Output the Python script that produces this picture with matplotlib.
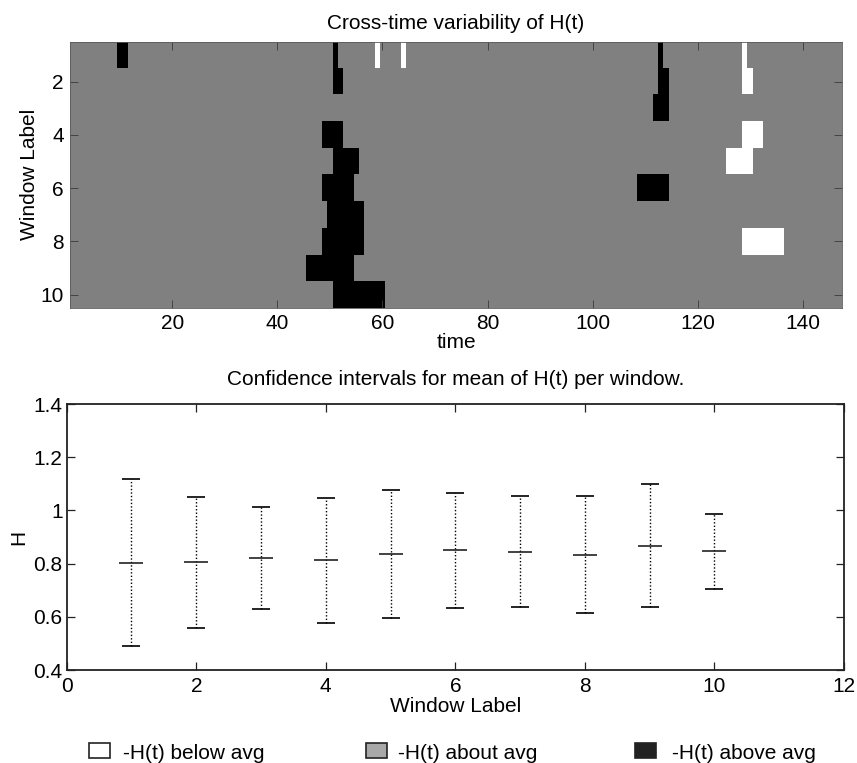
import numpy as np
import matplotlib
matplotlib.use("Agg")
import matplotlib.pyplot as plt
from matplotlib.colors import ListedColormap
from matplotlib.patches import Rectangle

plt.rcParams['font.family'] = ['Liberation Sans', 'DejaVu Sans']
FS = 15
plt.rcParams['font.size'] = FS

# ---------------- data ----------------
n_time = 147
n_windows = 10
# runs (window, first time, last time) of H(t) above average
above_runs = [
    (1, 10, 11), (1, 51, 51), (1, 113, 113),
    (2, 51, 52), (2, 113, 114),
    (3, 112, 114),
    (4, 49, 52),
    (5, 51, 55),
    (6, 49, 54), (6, 109, 114),
    (7, 50, 56),
    (8, 49, 56),
    (9, 46, 54),
    (10, 51, 60),
]
# runs of H(t) below average
below_runs = [
    (1, 59, 59), (1, 64, 64), (1, 129, 129),
    (2, 129, 130),
    (4, 129, 132),
    (5, 126, 130),
    (8, 129, 136),
]

windows = [1, 2, 3, 4, 5, 6, 7, 8, 9, 10]
ci_mean = [0.803, 0.805, 0.822, 0.812, 0.837, 0.850, 0.845, 0.834, 0.867, 0.847]
ci_low = [0.490, 0.559, 0.631, 0.578, 0.597, 0.634, 0.638, 0.614, 0.637, 0.706]
ci_high = [1.118, 1.050, 1.013, 1.047, 1.078, 1.065, 1.053, 1.053, 1.098, 0.988]

legend_labels = ['-H(t) below avg', '-H(t) about avg', '-H(t) above avg']

# ---------------- matrix ----------------
state = np.zeros((n_windows, n_time))
for w, a, b in above_runs:
    state[w - 1, a - 1:b] = 1
for w, a, b in below_runs:
    state[w - 1, a - 1:b] = -1

W, H = 857, 763
fig = plt.figure(figsize=(W / 100, H / 100), dpi=100)

def fx(px):
    return px / W

def fy(py):
    return 1 - py / H

# ---------------- top panel ----------------
ax1 = fig.add_axes([fx(70), fy(308), fx(842 - 70), (308 - 41.7) / H])
cmap = ListedColormap(['white', '#808080', 'black'])
ax1.imshow(state, cmap=cmap, vmin=-1, vmax=1, aspect='auto',
           interpolation='nearest', extent=[0.5, n_time + 0.5, n_windows + 0.5, 0.5])
ax1.set_xlim(0.5, n_time + 0.5)
ax1.set_ylim(n_windows + 0.5, 0.5)
ax1.set_xticks([20, 40, 60, 80, 100, 120, 140])
ax1.set_yticks([2, 4, 6, 8, 10])
ax1.tick_params(direction='in', length=5.5, width=0.6, color='#3a3a3a',
                top=True, right=True, pad=4.5)
for s in ax1.spines.values():
    s.set_linewidth(0.6)
    s.set_color('#5a5a5a')
ax1.set_title('Cross-time variability of H(t)', pad=9, fontsize=FS)
ax1.set_xlabel('time', labelpad=0)
ax1.set_ylabel('Window Label', labelpad=1)

# ---------------- bottom panel ----------------
ax2 = fig.add_axes([fx(66.7), fy(670), fx(844 - 66.7), (670 - 404) / H])
mean = np.array(ci_mean)
lo = np.array(ci_low)
hi = np.array(ci_high)
eb = ax2.errorbar(windows, mean, yerr=[mean - lo, hi - mean], fmt='none',
                  ecolor='black', elinewidth=1.0, capsize=6.8, capthick=1.2)
eb[2][0].set_linestyle((0, (1, 1.5)))
for cl in eb[1]:
    cl.set_color('#222222')
ax2.plot(windows, mean, linestyle='none', marker='_', markersize=17.3,
         markeredgewidth=1.2, color='#222222')
ax2.set_xlim(0, 12)
ax2.set_ylim(0.4, 1.4)
ax2.set_xticks([0, 2, 4, 6, 8, 10, 12])
ax2.set_yticks([0.4, 0.6, 0.8, 1.0, 1.2, 1.4])
ax2.set_yticklabels(['0.4', '0.6', '0.8', '1', '1.2', '1.4'])
ax2.tick_params(direction='in', length=5.5, width=0.9, color='#222222',
                top=True, right=True)
ax2.tick_params(axis='x', pad=5)
ax2.tick_params(axis='y', pad=3)
for s in ax2.spines.values():
    s.set_linewidth(1.3)
    s.set_color('#222222')
ax2.set_title('Confidence intervals for mean of H(t) per window.', pad=14, fontsize=FS)
ax2.set_xlabel('Window Label', labelpad=1)
ax2.set_ylabel('H', labelpad=4)

# ---------------- legend ----------------
legend_faces = ['white', '#a8a8a8', '#222222']
sq_left = [89, 366, 635]
txt_left = [123, 398, 672]
for face, sx, tx, lab in zip(legend_faces, sq_left, txt_left, legend_labels):
    fig.patches.append(Rectangle((fx(sx), fy(758.3)), 20.7 / W, 15 / H,
                                 transform=fig.transFigure, facecolor=face,
                                 edgecolor='#222222', linewidth=1.2))
    fig.text(fx(tx), fy(759), lab, ha='left', va='baseline', fontsize=FS)

fig.savefig('out.png', dpi=100)
